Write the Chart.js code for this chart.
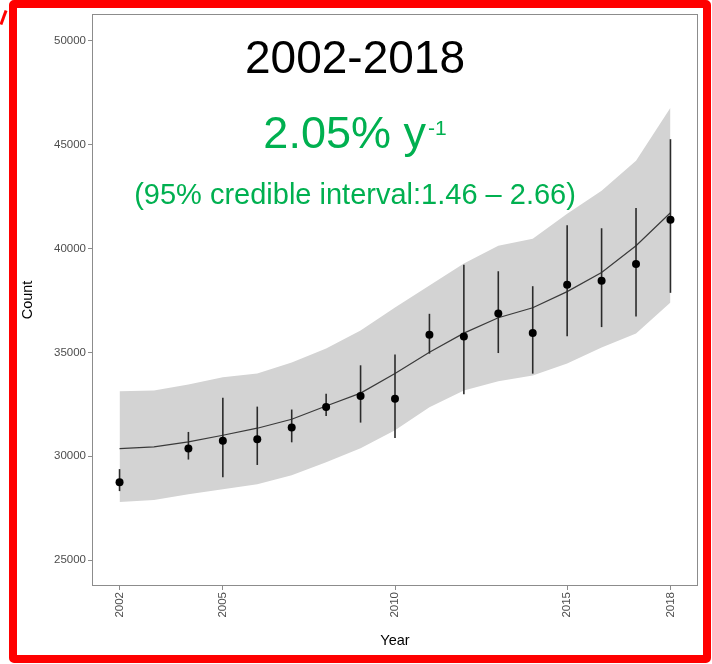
<!DOCTYPE html>
<html>
<head>
<meta charset="utf-8">
<script src="https://cdn.jsdelivr.net/npm/chart.js@4.4.1/dist/chart.umd.min.js"></script>
<style>
  html, body { margin: 0; padding: 0; background: #ffffff; }
  #wrap { position: relative; width: 712px; height: 664px; overflow: hidden; }
  #c { position: absolute; left: 0; top: 0; }
  .frame { position: absolute; left: 9px; top: 0; width: 702px; height: 663px; box-sizing: border-box;
           border: 8px solid #ff0000; border-radius: 5px; pointer-events: none; }
  .mark { position: absolute; left: 2px; top: 10px; width: 3px; height: 15px; background: #ff0000;
          transform: rotate(20deg); pointer-events: none; }
</style>
</head>
<body>
<div id="wrap">
  <canvas id="c" width="712" height="664"></canvas>
  <div class="frame"></div>
  <div class="mark"></div>
</div>
<script>
// Modelled trend (posterior mean and 95% band), one value per year
const years      = [2002, 2003, 2004, 2005, 2006, 2007, 2008, 2009, 2010, 2011, 2012, 2013, 2014, 2015, 2016, 2017, 2018];
const meanCount  = [30370, 30450, 30690, 31010, 31350, 31780, 32420, 33040, 33980, 35010, 35930, 36670, 37150, 37930, 38850, 40140, 41730];
const lowerCount = [27790, 27890, 28170, 28410, 28650, 29090, 29710, 30390, 31250, 32360, 33170, 33610, 33890, 34470, 35240, 35910, 37400];
const upperCount = [33130, 33170, 33460, 33800, 33990, 34520, 35190, 36060, 37160, 38220, 39280, 40140, 40480, 41680, 42790, 44230, 46780];

// Survey counts with their intervals (no survey in 2003)
const obsYears = [2002, 2004, 2005, 2006, 2007, 2008, 2009, 2010, 2011, 2012, 2013, 2014, 2015, 2016, 2017, 2018];
const obsCount = [28750, 30370, 30740, 30820, 31380, 32370, 32900, 32770, 35850, 35770, 36880, 35930, 38260, 38450, 39260, 41390];
const obsLow   = [28320, 29840, 28990, 29580, 30670, 31940, 31620, 30880, 34940, 32980, 34970, 33980, 35780, 36220, 36730, 37870];
const obsHigh  = [29380, 31170, 32820, 32390, 32250, 33010, 34380, 34900, 36860, 39220, 38910, 38190, 41120, 40980, 41960, 45270];

// Axis ticks
const xTicks = [2002, 2005, 2010, 2015, 2018];
const yTicks = [25000, 30000, 35000, 40000, 45000, 50000];

// Headline texts
const periodText = '2002-2018';
const rateText   = '2.05% y';
const rateExp    = '-1';
const ciText     = '(95% credible interval:1.46 \u2013 2.66)';

const FONT = '"Liberation Sans", Arial, sans-serif';
const GREEN = '#00b050';

const pts = (xs, ys) => xs.map((x, i) => ({ x: x, y: ys[i] }));

// Vertical interval bars drawn right after the trend line, beneath the points
const errorBars = {
  id: 'errorBars',
  afterDatasetDraw(chart, args) {
    if (args.index !== 1) return;
    const { ctx, scales: { x, y } } = chart;
    ctx.save();
    ctx.strokeStyle = '#2b2b2b';
    ctx.lineWidth = 1.6;
    obsYears.forEach((yr, i) => {
      const px = x.getPixelForValue(yr);
      ctx.beginPath();
      ctx.moveTo(px, y.getPixelForValue(obsLow[i]));
      ctx.lineTo(px, y.getPixelForValue(obsHigh[i]));
      ctx.stroke();
    });
    ctx.restore();
  }
};

// Grey frame around the plotting panel
const panelBorder = {
  id: 'panelBorder',
  afterDatasetsDraw(chart) {
    const { ctx, chartArea: a } = chart;
    ctx.save();
    ctx.strokeStyle = '#8c8c8c';
    ctx.lineWidth = 1;
    ctx.strokeRect(Math.round(a.left) + 0.5, Math.round(a.top) + 0.5,
                   Math.round(a.right - a.left) - 1, Math.round(a.bottom - a.top) - 1);
    ctx.restore();
  }
};

// Period, growth rate and interval written inside the panel
const headline = {
  id: 'headline',
  afterDraw(chart) {
    const { ctx } = chart;
    const cx = 355;
    ctx.save();
    ctx.textBaseline = 'alphabetic';

    ctx.fillStyle = '#000000';
    ctx.font = '46px ' + FONT;
    ctx.textAlign = 'center';
    ctx.fillText(periodText, cx, 73);

    ctx.fillStyle = GREEN;
    ctx.font = '45px ' + FONT;
    ctx.textAlign = 'left';
    const w = ctx.measureText(rateText).width;
    ctx.font = '21px ' + FONT;
    const we = ctx.measureText(rateExp).width;
    const start = cx - (w + 2 + we) / 2;
    ctx.font = '45px ' + FONT;
    ctx.fillText(rateText, start, 148);
    ctx.font = '21px ' + FONT;
    ctx.fillText(rateExp, start + w + 2, 135);

    ctx.font = '29px ' + FONT;
    ctx.textAlign = 'center';
    ctx.fillText(ciText, cx, 204);
    ctx.restore();
  }
};

new Chart(document.getElementById('c'), {
  type: 'line',
  data: {
    datasets: [
      {
        type: 'scatter',
        data: pts(obsYears, obsCount),
        pointRadius: 4,
        pointBackgroundColor: '#000000',
        pointBorderColor: '#000000',
        pointBorderWidth: 0,
        showLine: false,
        order: 0
      },
      {
        data: pts(years, meanCount),
        borderColor: '#3a3a3a',
        borderWidth: 1.2,
        pointRadius: 0,
        tension: 0,
        fill: false,
        order: 1
      },
      {
        data: pts(years, lowerCount),
        borderWidth: 0,
        borderColor: 'rgba(0,0,0,0)',
        pointRadius: 0,
        tension: 0,
        fill: false,
        order: 2
      },
      {
        data: pts(years, upperCount),
        borderWidth: 0,
        borderColor: 'rgba(0,0,0,0)',
        backgroundColor: '#d3d3d3',
        pointRadius: 0,
        tension: 0,
        fill: '-1',
        order: 3
      }
    ]
  },
  options: {
    responsive: false,
    animation: false,
    events: [],
    layout: { padding: { left: 0, top: 14, right: 14, bottom: 0 } },
    plugins: { legend: { display: false }, tooltip: { enabled: false } },
    scales: {
      x: {
        type: 'linear',
        min: 2001.2,
        max: 2018.8,
        afterBuildTicks: s => { s.ticks = xTicks.map(v => ({ value: v })); },
        afterFit: s => { s.height = 78; },
        ticks: {
          autoSkip: false,
          minRotation: 90,
          maxRotation: 90,
          padding: 2,
          color: '#4d4d4d',
          font: { family: FONT, size: 11.5 },
          callback: v => String(v)
        },
        grid: { display: true, drawOnChartArea: false, drawTicks: true, tickLength: 4, color: '#8c8c8c' },
        border: { display: false },
        title: {
          display: true,
          text: 'Year',
          color: '#000000',
          font: { family: FONT, size: 14.5 },
          padding: { top: 0, bottom: 14 }
        }
      },
      y: {
        type: 'linear',
        min: 23750,
        max: 51300,
        afterBuildTicks: s => { s.ticks = yTicks.map(v => ({ value: v })); },
        afterFit: s => { s.width = 92; },
        ticks: {
          padding: 2,
          color: '#4d4d4d',
          font: { family: FONT, size: 11.5 },
          callback: v => String(v)
        },
        grid: { display: true, drawOnChartArea: false, drawTicks: true, tickLength: 4, color: '#8c8c8c' },
        border: { display: false },
        title: {
          display: true,
          text: 'Count',
          color: '#000000',
          font: { family: FONT, size: 14.5 },
          padding: { top: 19, bottom: 0 }
        }
      }
    }
  },
  plugins: [errorBars, panelBorder, headline]
});
</script>
</body>
</html>
